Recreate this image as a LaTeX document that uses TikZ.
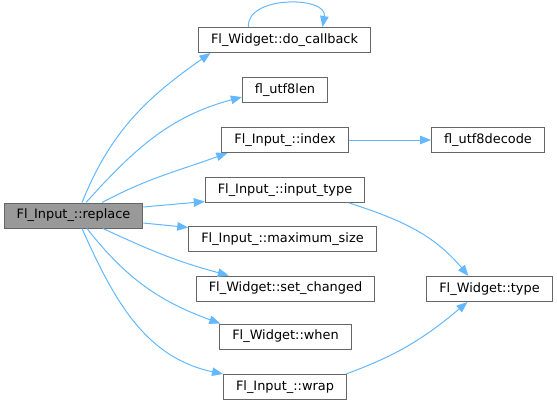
\documentclass[tikz,border=0pt]{standalone}
\usepackage{fontspec}
\setmainfont{DejaVu Sans}
\usepackage{tikz}
\usetikzlibrary{positioning,arrows.meta}
\usepackage{xcolor}
\definecolor{edgeblue}{HTML}{63B8FF}
\definecolor{boxline}{HTML}{666666}
\definecolor{curfill}{HTML}{999999}

\begin{document}
\begin{tikzpicture}[x=1pt, y=-1pt,
    fn/.style={draw=boxline, line width=1pt, fill=white, rectangle,
      minimum height=25pt, inner xsep=12.5pt, inner ysep=0pt,
      font=\fontsize{12.9}{15}\selectfont},
    cur/.style={fn, fill=curfill},
    edge/.style={draw=edgeblue, line width=1pt,
      -{Triangle[length=11pt, width=8.5pt]}}]

    \useasboundingbox (0,0) rectangle (557,405);

    % --- caller ---
    \node[cur] (replace) at (73.5, 215.5) {Fl\_Input\_::replace};

    % --- callees ---
    \node[fn] (docb)    at (284.5, 40)  {Fl\_Widget::do\_callback};
    \node[fn] (utflen)  at (285, 90)    {fl\_utf8len};
    \node[fn] (index)   at (285, 140)   {Fl\_Input\_::index};
    \node[fn] (inptype) at (285, 190)   {Fl\_Input\_::input\_type};
    \node[fn] (maxsize) at (282.5, 239) {Fl\_Input\_::maximum\_size};
    \node[fn] (setchg)  at (285.5, 288.5) {Fl\_Widget::set\_changed};
    \node[fn] (when)    at (285.5, 336.5) {Fl\_Widget::when};
    \node[fn] (wrap)    at (285, 387)   {Fl\_Input\_::wrap};

    % --- second level ---
    \node[fn] (decode)  at (488, 140) {fl\_utf8decode};
    \node[fn] (wtype)   at (489.5, 289) {Fl\_Widget::type};

    % edges out of replace
    \draw[edge] ([xshift=8.5pt]replace.north) to[out=68, in=215] ([xshift=-74pt]docb.south);
    \draw[edge] ([xshift=12.5pt]replace.north) to[out=48, in=195] ([yshift=-7pt]utflen.west);
    \draw[edge] ([xshift=28.5pt]replace.north) to[out=28, in=200] ([xshift=6pt]index.south west);
    \draw[edge] ([yshift=8.5pt]replace.east) -- ([yshift=1.5pt]inptype.south west);
    \draw[edge] ([yshift=-7.5pt]replace.east) -- ([yshift=-1.5pt]maxsize.north west);
    \draw[edge] ([xshift=29.5pt]replace.south) to[out=-25, in=165] ([xshift=33pt]setchg.north west);
    \draw[edge] ([xshift=13.5pt]replace.south) to[out=-52, in=160] ([xshift=1pt]when.north west);
    \draw[edge] ([xshift=8.5pt]replace.south) to[out=-66, in=168] (wrap.north west);

    % self call
    \draw[edge] ([xshift=-36pt]docb.north) to[out=95, in=80, looseness=1.1] ([xshift=38pt]docb.north);

    % edges to second level
    \draw[edge] (index.east) -- (decode.west);
    \draw[edge] ([xshift=-16pt]inptype.south east) to[out=-18, in=130] ([xshift=-21pt]wtype.north);
    \draw[edge] ([xshift=-1pt]wrap.north east) to[out=20, in=220] ([xshift=-22pt]wtype.south);

\end{tikzpicture}
\end{document}
